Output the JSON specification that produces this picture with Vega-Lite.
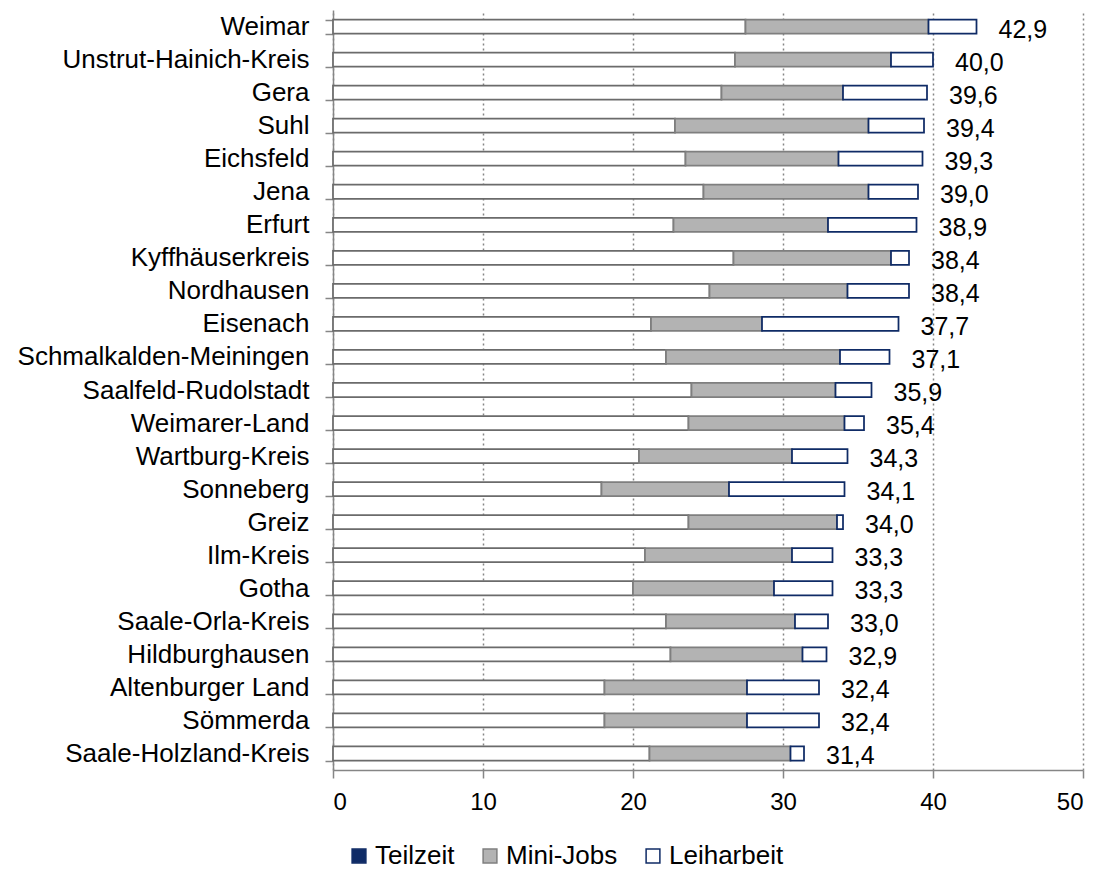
{
  "$schema": "https://vega.github.io/schema/vega-lite/v6.json",
  "autosize": "none",
  "width": 750,
  "height": 760,
  "padding": {"left": 333, "top": 10, "right": 17, "bottom": 99},
  "background": "#ffffff",
  "config": {
    "font": "Liberation Sans",
    "view": {"stroke": null},
    "locale": {"number": {"decimal": ",", "thousands": ".", "grouping": [3], "currency": ["", " €"]}},
    "axis": {"labelFont": "Liberation Sans", "labelColor": "#000000", "domainColor": "#868686", "tickColor": "#868686", "domainWidth": 1.5, "tickWidth": 1.5, "tickSize": 8, "title": null}
  },
  "data": {
    "values": [
      {"region": "Weimar", "Teilzeit": 27.5, "Mini-Jobs": 12.2, "Leiharbeit": 3.2},
      {"region": "Unstrut-Hainich-Kreis", "Teilzeit": 26.8, "Mini-Jobs": 10.4, "Leiharbeit": 2.8},
      {"region": "Gera", "Teilzeit": 25.9, "Mini-Jobs": 8.1, "Leiharbeit": 5.6},
      {"region": "Suhl", "Teilzeit": 22.8, "Mini-Jobs": 12.9, "Leiharbeit": 3.7},
      {"region": "Eichsfeld", "Teilzeit": 23.5, "Mini-Jobs": 10.2, "Leiharbeit": 5.6},
      {"region": "Jena", "Teilzeit": 24.7, "Mini-Jobs": 11.0, "Leiharbeit": 3.3},
      {"region": "Erfurt", "Teilzeit": 22.7, "Mini-Jobs": 10.3, "Leiharbeit": 5.9},
      {"region": "Kyffhäuserkreis", "Teilzeit": 26.7, "Mini-Jobs": 10.5, "Leiharbeit": 1.2},
      {"region": "Nordhausen", "Teilzeit": 25.1, "Mini-Jobs": 9.2, "Leiharbeit": 4.1},
      {"region": "Eisenach", "Teilzeit": 21.2, "Mini-Jobs": 7.4, "Leiharbeit": 9.1},
      {"region": "Schmalkalden-Meiningen", "Teilzeit": 22.2, "Mini-Jobs": 11.6, "Leiharbeit": 3.3},
      {"region": "Saalfeld-Rudolstadt", "Teilzeit": 23.9, "Mini-Jobs": 9.6, "Leiharbeit": 2.4},
      {"region": "Weimarer-Land", "Teilzeit": 23.7, "Mini-Jobs": 10.4, "Leiharbeit": 1.3},
      {"region": "Wartburg-Kreis", "Teilzeit": 20.4, "Mini-Jobs": 10.2, "Leiharbeit": 3.7},
      {"region": "Sonneberg", "Teilzeit": 17.9, "Mini-Jobs": 8.5, "Leiharbeit": 7.7},
      {"region": "Greiz", "Teilzeit": 23.7, "Mini-Jobs": 9.9, "Leiharbeit": 0.4},
      {"region": "Ilm-Kreis", "Teilzeit": 20.8, "Mini-Jobs": 9.8, "Leiharbeit": 2.7},
      {"region": "Gotha", "Teilzeit": 20.0, "Mini-Jobs": 9.4, "Leiharbeit": 3.9},
      {"region": "Saale-Orla-Kreis", "Teilzeit": 22.2, "Mini-Jobs": 8.6, "Leiharbeit": 2.2},
      {"region": "Hildburghausen", "Teilzeit": 22.5, "Mini-Jobs": 8.8, "Leiharbeit": 1.6},
      {"region": "Altenburger Land", "Teilzeit": 18.1, "Mini-Jobs": 9.5, "Leiharbeit": 4.8},
      {"region": "Sömmerda", "Teilzeit": 18.1, "Mini-Jobs": 9.5, "Leiharbeit": 4.8},
      {"region": "Saale-Holzland-Kreis", "Teilzeit": 21.1, "Mini-Jobs": 9.4, "Leiharbeit": 0.9}
    ]
  },
  "transform": [
    {"fold": ["Teilzeit", "Mini-Jobs", "Leiharbeit"], "as": ["type", "value"]}
  ],
  "encoding": {
    "y": {
      "field": "region",
      "type": "nominal",
      "sort": null,
      "scale": {"paddingInner": 0.575, "paddingOuter": 0.2875},
      "axis": {"labelFontSize": 26, "labelPadding": 16, "labelLimit": 400, "tickBand": "extent", "grid": false}
    }
  },
  "layer": [
    {
      "mark": {"type": "bar", "strokeWidth": 1.75},
      "encoding": {
        "x": {
          "field": "value",
          "type": "quantitative",
          "stack": "zero",
          "scale": {"domain": [0, 50], "nice": false},
          "axis": {"values": [0, 10, 20, 30, 40, 50], "labelFontSize": 24, "labelPadding": 12, "grid": true, "gridColor": "#868686", "gridDash": [2, 3], "gridWidth": 1.5}
        },
        "order": {"field": "type", "sort": "descending"},
        "fill": {
          "condition": {"test": "datum.type === 'Teilzeit'", "value": "#ffffff"},
          "field": "type",
          "type": "nominal",
          "scale": {"domain": ["Teilzeit", "Mini-Jobs", "Leiharbeit"], "range": ["#0f2b66", "#b3b3b3", "#ffffff"]},
          "legend": {
            "title": null,
            "orient": "none",
            "legendX": 13,
            "legendY": 833,
            "direction": "horizontal",
            "symbolType": "square",
            "symbolSize": 190,
            "symbolStrokeWidth": 1.5,
            "labelFontSize": 26,
            "labelFont": "Liberation Sans",
            "labelColor": "#000000",
            "labelOffset": 3,
            "labelLimit": 300,
            "columnPadding": 22
          }
        },
        "stroke": {
          "condition": {"test": "datum.type === 'Teilzeit'", "value": "#6b6b6b"},
          "field": "type",
          "type": "nominal",
          "scale": {"domain": ["Teilzeit", "Mini-Jobs", "Leiharbeit"], "range": ["#0f2b66", "#7f7f7f", "#0f2b66"]},
          "legend": {
            "title": null,
            "orient": "none",
            "legendX": 13,
            "legendY": 833,
            "direction": "horizontal",
            "symbolType": "square",
            "symbolSize": 190,
            "symbolStrokeWidth": 1.5,
            "labelFontSize": 26,
            "labelFont": "Liberation Sans",
            "labelColor": "#000000",
            "labelOffset": 3,
            "labelLimit": 300,
            "columnPadding": 22
          }
        }
      }
    },
    {
      "mark": {"type": "text", "align": "left", "baseline": "middle", "dx": 22, "dy": 3, "fontSize": 25, "color": "#000000", "font": "Liberation Sans"},
      "encoding": {
        "x": {"aggregate": "sum", "field": "value", "type": "quantitative"},
        "text": {"aggregate": "sum", "field": "value", "type": "quantitative", "format": ".1f"}
      }
    }
  ]
}
